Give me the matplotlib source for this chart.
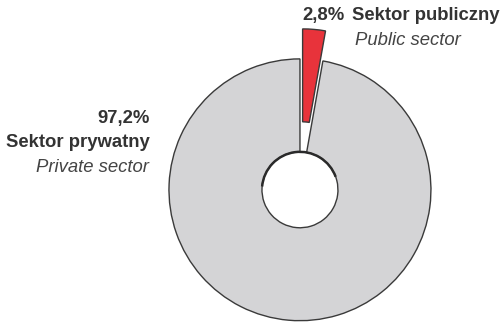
import matplotlib.pyplot as plt
from matplotlib.patches import Arc

plt.rcParams['font.family'] = ['Liberation Sans', 'DejaVu Sans']

sectors = ['Sektor publiczny', 'Sektor prywatny']
sectors_en = ['Public sector', 'Private sector']
shares = [2.8, 97.2]
colors = ['#e8333b', '#d4d4d6']
explode = [0.23, 0]

fig = plt.figure(figsize=(5.03, 3.22), dpi=100)
ax = fig.add_axes([0, 0, 1, 1])

wedges, _ = ax.pie(shares, colors=colors, explode=explode, startangle=90,
                   counterclock=False,
                   wedgeprops=dict(width=0.71, edgecolor='#3a3a3a', linewidth=1.0))

# darker rim along the top of the hole
ax.add_patch(Arc((0, 0), 0.58, 0.58, theta1=20, theta2=175, color='#2a2a2a', lw=1.8))

ax.set_xlim(-2.29, 1.55)
ax.set_ylim(-1.01, 1.45)
ax.set_aspect('auto')
ax.axis('off')

txt = '#333333'
fs = 13.3
pct = [f'{v:.1f}%'.replace('.', ',') for v in shares]

# public sector label
ax.text(0.02, 1.30, pct[0], ha='left', va='baseline', fontsize=fs, fontweight='bold', color=txt)
ax.text(0.40, 1.30, sectors[0], ha='left', va='baseline', fontsize=fs, fontweight='bold', color=txt)
ax.text(0.42, 1.107, sectors_en[0], ha='left', va='baseline', fontsize=fs, style='italic', color='#444444')

# private sector label
ax.text(-1.15, 0.51, pct[1], ha='right', va='baseline', fontsize=fs, fontweight='bold', color=txt)
ax.text(-1.15, 0.33, sectors[1], ha='right', va='baseline', fontsize=fs, fontweight='bold', color=txt)
ax.text(-1.15, 0.137, sectors_en[1], ha='right', va='baseline', fontsize=fs, style='italic', color='#444444')

fig.savefig('out.png', dpi=100)
